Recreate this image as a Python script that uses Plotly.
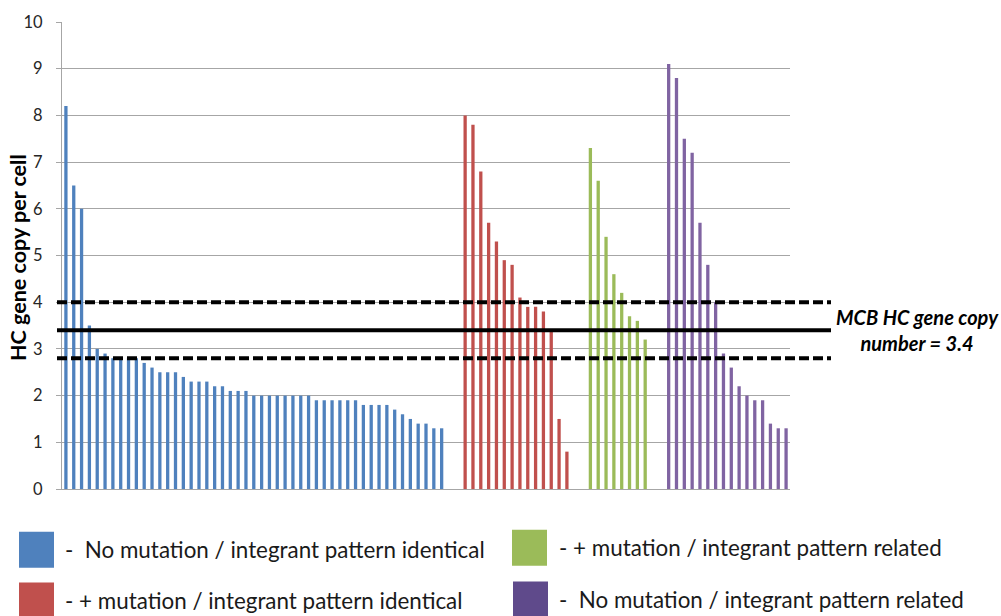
import plotly.graph_objects as go

# ---- data ----
blue_vals = [8.2, 6.5, 6.0, 3.5, 3.0, 2.9, 2.8, 2.8, 2.8, 2.8, 2.7, 2.6,
             2.5, 2.5, 2.5, 2.4, 2.3, 2.3, 2.3, 2.2, 2.2, 2.1, 2.1, 2.1,
             2.0, 2.0, 2.0, 2.0, 2.0, 2.0, 2.0, 2.0,
             1.9, 1.9, 1.9, 1.9, 1.9, 1.9, 1.8, 1.8, 1.8, 1.8,
             1.7, 1.6, 1.5, 1.4, 1.4, 1.3, 1.3]
red_vals = [8.0, 7.8, 6.8, 5.7, 5.3, 4.9, 4.8, 4.1, 3.9, 3.9, 3.8, 3.4, 1.5, 0.8]
green_vals = [7.3, 6.6, 5.4, 4.6, 4.2, 3.7, 3.6, 3.2]
purple_vals = [9.1, 8.8, 7.5, 7.2, 5.7, 4.8, 4.0, 2.9, 2.6, 2.2, 2.0, 1.9, 1.9, 1.4, 1.3, 1.3]

group_names = ["No mutation / integrant pattern identical",
               "+ mutation / integrant pattern identical",
               "+ mutation / integrant pattern related",
               "No mutation / integrant pattern related"]
legend_labels = ["-  No mutation / integrant pattern identical",
                 "- + mutation / integrant pattern identical",
                 "- + mutation / integrant pattern related",
                 "-  No mutation / integrant pattern related"]

mcb_value = 3.4
mcb_upper = 4.0
mcb_lower = 2.8
y_ticks = list(range(0, 11))
y_title = "HC gene copy per cell"
mcb_label = "MCB HC gene copy<br>number = 3.4"

bar_colors = ["#4F81BD", "#C0504D", "#9BBB59", "#8064A2"]
legend_colors = ["#4F81BD", "#C0504D", "#9BBB59", "#5F4A8B"]
GAP = 2

# ---- figure ----
W, H = 1001, 616
ML, MR, MT, MB = 62, 211, 20, 127
PW, PH = W - ML - MR, H - MT - MB

def px(X):
    return (X - ML) / PW

def py(Y):
    return (H - MB - Y) / PH

fig = go.Figure()
start = 0
all_groups = [blue_vals, red_vals, green_vals, purple_vals]
for vals, name, col in zip(all_groups, group_names, bar_colors):
    xs = list(range(start, start + len(vals)))
    fig.add_trace(go.Bar(x=xs, y=vals, name=name, marker_color=col,
                         marker_line_width=0, showlegend=False))
    start += len(vals) + GAP
n_cat = start - GAP

font_main = "Lato, 'Open Sans', sans-serif"

fig.update_layout(
    width=W, height=H,
    margin=dict(l=ML, r=MR, t=MT, b=MB, pad=0),
    paper_bgcolor="white", plot_bgcolor="white",
    barmode="overlay", bargap=0.58,
    font=dict(family=font_main, color="#262626"),
    xaxis=dict(range=[-0.5, n_cat - 0.5], showticklabels=False, ticks="",
               showgrid=False, zeroline=False, showline=True,
               linecolor="#A6A6A6", linewidth=1),
    yaxis=dict(range=[0, 10], tickvals=y_ticks, showgrid=True,
               gridcolor="#A6A6A6", gridwidth=1, zeroline=False,
               showline=True, linecolor="#A6A6A6", linewidth=1,
               ticks="outside", ticklen=5, tickcolor="#A6A6A6",
               ticklabelstandoff=10,
               tickfont=dict(size=16.5, color="#262626", family=font_main)),
)

# reference lines
for val, dash in [(mcb_upper, "dash"), (mcb_value, "solid"), (mcb_lower, "dash")]:
    fig.add_shape(type="line", xref="paper", yref="y",
                  x0=px(57), x1=px(831), y0=val, y1=val,
                  line=dict(color="black", width=4,
                            dash="10px,4px" if dash == "dash" else "solid"))

# y title
fig.add_annotation(xref="paper", yref="paper", x=px(18), y=py(257),
                   text="<b>" + y_title + "</b>", textangle=-90, showarrow=False,
                   font=dict(size=21.5, color="black", family=font_main),
                   xanchor="center", yanchor="middle")

# MCB label
fig.add_annotation(xref="paper", yref="paper", x=px(917), y=py(329),
                   text="<b><i>" + mcb_label + "</i></b>", showarrow=False,
                   align="center", xanchor="center", yanchor="middle",
                   font=dict(size=20, color="black", family=font_main))

# custom legend
legend_pos = [(19, 532, 63), (19, 583, 63), (512, 530, 557), (513, 582, 557)]
for (sx, sy, tx), lab, col in zip(legend_pos, legend_labels, legend_colors):
    fig.add_shape(type="rect", xref="paper", yref="paper",
                  x0=px(sx), x1=px(sx + 35), y0=py(sy), y1=py(sy + 36),
                  fillcolor=col, line=dict(width=0))
    fig.add_annotation(xref="paper", yref="paper", x=px(tx), y=py(sy + 18),
                       text=lab, showarrow=False, xanchor="left", yanchor="middle",
                       font=dict(size=22.4, color="#1a1a1a", family=font_main))

fig.write_html("out.html")
